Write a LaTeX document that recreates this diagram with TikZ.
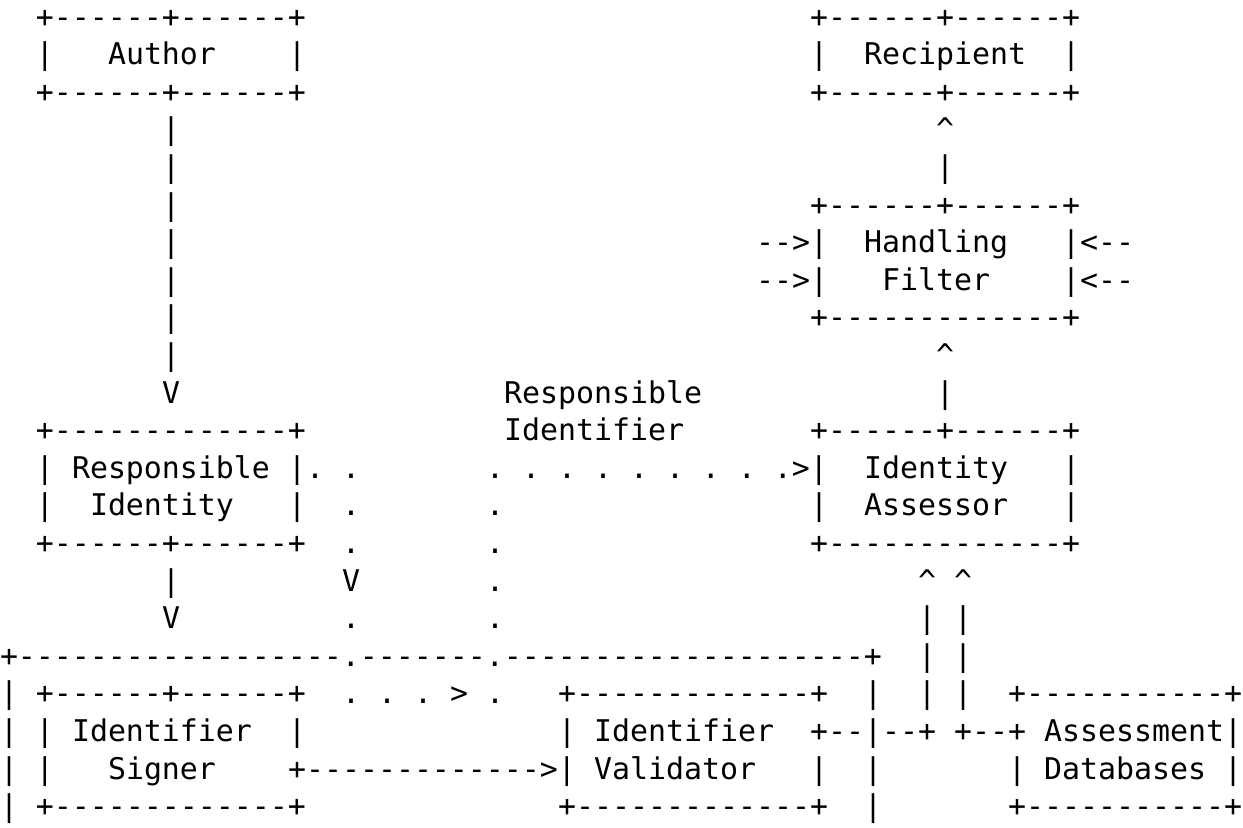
\documentclass[tikz,border=0pt]{standalone}
\usepackage{fontspec}
\setmonofont{DejaVu Sans Mono}
% one character cell is 6pt wide (DejaVu Sans Mono advance = 0.602 em)
\tikzset{asc/.style={anchor=base west, inner sep=0pt, outer sep=0pt,
  font=\ttfamily\fontsize{9.966pt}{12pt}\selectfont, text=black}}
% \ch{column}{row}{text}: put a run of characters into the character grid
\newcommand\ch[3]{\node[asc] (r#2c#1) at ({#1*6pt}, {-(#2-0.5)*12.53pt-2.8pt}) {#3};}
\newcommand\caret{\textasciicircum}
\begin{document}
\begin{tikzpicture}
\useasboundingbox[fill=white] (0,0) rectangle (414.33pt,-275.67pt);
% Author / Recipient
\ch{2}{1}{+------+------+}   \ch{45}{1}{+------+------+}
\ch{2}{2}{|} \ch{6}{2}{Author} \ch{16}{2}{|}
\ch{45}{2}{|} \ch{48}{2}{Recipient} \ch{59}{2}{|}
\ch{2}{3}{+------+------+}   \ch{45}{3}{+------+------+}
\ch{9}{4}{|} \ch{52}{4}{\caret}
\ch{9}{5}{|} \ch{52}{5}{|}
% Handling Filter
\ch{9}{6}{|} \ch{45}{6}{+------+------+}
\ch{9}{7}{|} \ch{42}{7}{-->|} \ch{48}{7}{Handling} \ch{59}{7}{|<--}
\ch{9}{8}{|} \ch{42}{8}{-->|} \ch{49}{8}{Filter} \ch{59}{8}{|<--}
\ch{9}{9}{|} \ch{45}{9}{+-------------+}
\ch{9}{10}{|} \ch{52}{10}{\caret}
\ch{9}{11}{V} \ch{28}{11}{Responsible} \ch{52}{11}{|}
% Responsible Identity / Identity Assessor
\ch{2}{12}{+-------------+} \ch{28}{12}{Identifier} \ch{45}{12}{+------+------+}
\ch{2}{13}{|} \ch{4}{13}{Responsible} \ch{16}{13}{|. .}
\ch{27}{13}{. . . . . . . . .>|} \ch{48}{13}{Identity} \ch{59}{13}{|}
\ch{2}{14}{|} \ch{5}{14}{Identity} \ch{16}{14}{|} \ch{19}{14}{.} \ch{27}{14}{.}
\ch{45}{14}{|} \ch{48}{14}{Assessor} \ch{59}{14}{|}
\ch{2}{15}{+------+------+} \ch{19}{15}{.} \ch{27}{15}{.} \ch{45}{15}{+-------------+}
\ch{9}{16}{|} \ch{19}{16}{V} \ch{27}{16}{.} \ch{51}{16}{\caret{} \caret}
\ch{9}{17}{V} \ch{19}{17}{.} \ch{27}{17}{.} \ch{51}{17}{| |}
% Signer / Validator / Assessment Databases
\ch{0}{18}{+------------------.-------.--------------------+} \ch{51}{18}{| |}
\ch{0}{19}{|} \ch{2}{19}{+------+------+} \ch{19}{19}{. . . > .}
\ch{31}{19}{+-------------+} \ch{48}{19}{|} \ch{51}{19}{| |} \ch{56}{19}{+-----------+}
\ch{0}{20}{| |} \ch{4}{20}{Identifier} \ch{16}{20}{|} \ch{31}{20}{|}
\ch{33}{20}{Identifier} \ch{45}{20}{+--|--+ +--+} \ch{58}{20}{Assessment|}
\ch{0}{21}{| |} \ch{6}{21}{Signer} \ch{16}{21}{+------------->|} \ch{33}{21}{Validator}
\ch{45}{21}{|} \ch{48}{21}{|} \ch{56}{21}{|} \ch{58}{21}{Databases} \ch{68}{21}{|}
\ch{0}{22}{|} \ch{2}{22}{+-------------+} \ch{31}{22}{+-------------+}
\ch{48}{22}{|} \ch{56}{22}{+-----------+}
\end{tikzpicture}
\end{document}
